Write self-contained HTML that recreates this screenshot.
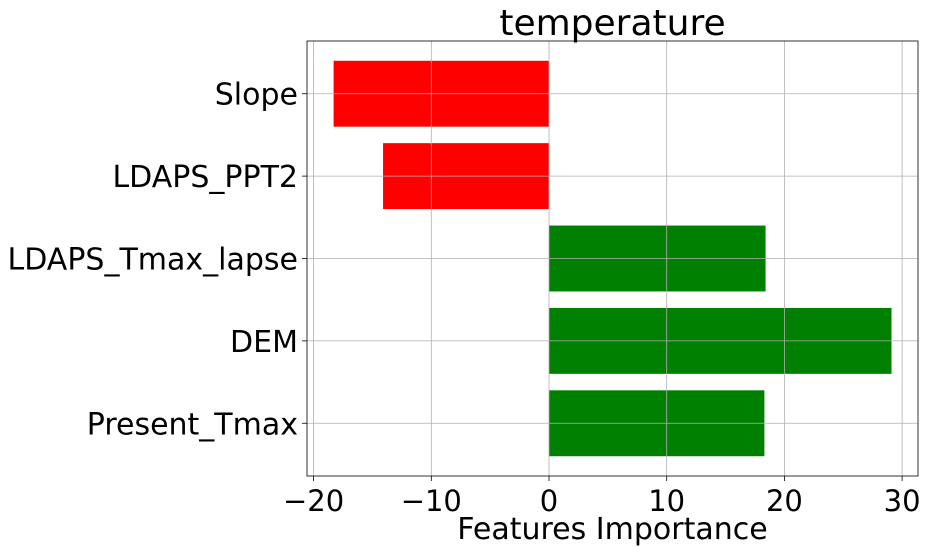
<!DOCTYPE html>
<html><head><meta charset="utf-8"><style>
body{margin:0;background:#fff;}
svg text{font-family:"DejaVu Sans","Liberation Sans",sans-serif;fill:#000;}
</style></head><body>
<svg id="chart" width="928" height="552" xmlns="http://www.w3.org/2000/svg"></svg>
<script>
const categories = ["Present_Tmax","DEM","LDAPS_Tmax_lapse","LDAPS_PPT2","Slope"];
const values = [18.3, 29.1, 18.4, -14.1, -18.3];
const xTicks = [-20,-10,0,10,20,30];
const xTickLabels = ["\u221220","\u221210","0","10","20","30"];

const L=307,R=918,T=41,B=476;
const xMin=-20.56,xMax=31.35;
const X=v=>L+(v-xMin)/(xMax-xMin)*(R-L);
const yMin=-0.64,yMax=4.64;
const Y=i=>B-(i-yMin)/(yMax-yMin)*(B-T);
const ns="http://www.w3.org/2000/svg";
const svg=document.getElementById('chart');
function mk(tag,attrs,parent){const e=document.createElementNS(ns,tag);for(const k in attrs)e.setAttribute(k,attrs[k]);(parent||svg).appendChild(e);return e;}

const bars=mk('g',{});


const grid=mk('g',{});


const bh=(Y(0)-Y(0.8));
values.forEach((v,i)=>{
  const x0=X(Math.min(0,v)),x1=X(Math.max(0,v));
  const r=mk('rect',{x:x0,y:Y(i)-bh/2,width:x1-x0,height:bh,fill:v<0?'#ff0000':'#008000'},bars);
  
  
});
xTicks.forEach((t,i)=>{
  mk('line',{x1:X(t),x2:X(t),y1:T,y2:B,stroke:'#b0b0b0','stroke-width':0.8},grid);
  mk('line',{x1:X(t),x2:X(t),y1:B,y2:B+5,stroke:'#000','stroke-width':0.8});
  const tx=mk('text',{x:X(t),y:B+35,'text-anchor':'middle','font-size':29});
  tx.textContent=xTickLabels[i];
  
  
});
categories.forEach((c,i)=>{
  mk('line',{x1:L,x2:R,y1:Y(i),y2:Y(i),stroke:'#b0b0b0','stroke-width':0.8},grid);
  mk('line',{x1:L-5,x2:L,y1:Y(i),y2:Y(i),stroke:'#000','stroke-width':0.8});
  const tx=mk('text',{x:L-9,y:Y(i)+11,'text-anchor':'end','font-size':30});
  tx.textContent=c;
  
  
});
const fr=mk('rect',{x:L,y:T,width:R-L,height:B-T,fill:'none',stroke:'#000','stroke-width':0.8});


const title=mk('text',{x:(L+R)/2,y:T-6,'text-anchor':'middle','font-size':36});
title.textContent='temperature';


const xl=mk('text',{x:(L+R)/2,y:539,'text-anchor':'middle','font-size':30});
xl.textContent='Features Importance';


</script>
</body></html>
